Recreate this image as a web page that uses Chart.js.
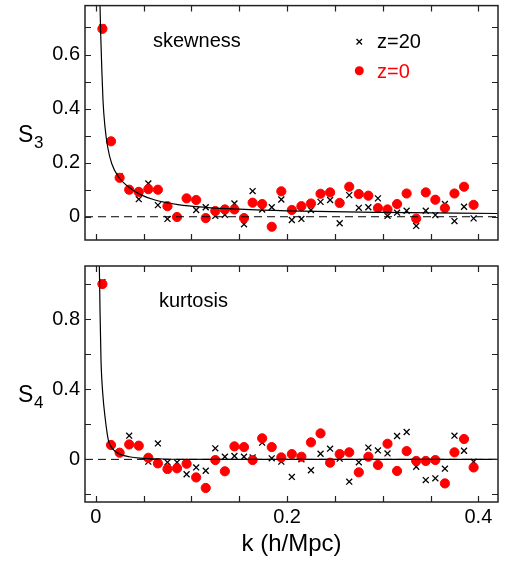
<!DOCTYPE html>
<html>
<head>
<meta charset="utf-8">
<script src="https://cdn.jsdelivr.net/npm/chart.js@4.4.0/dist/chart.umd.min.js"></script>
<style>
  html, body { margin: 0; padding: 0; background: #fff; }
  #wrap { position: relative; width: 505px; height: 563px; }
  .panel { position: absolute; left: 0; width: 505px; }
  #top-panel { top: 0; height: 250px; }
  #bottom-panel { top: 250px; height: 313px; }
</style>
</head>
<body>
<div id="wrap">
  <div class="panel" id="top-panel"><canvas id="s3-chart" width="505" height="250"></canvas></div>
  <div class="panel" id="bottom-panel"><canvas id="s4-chart" width="505" height="313"></canvas></div>
</div>
<script>
// k bins (h/Mpc), shared by both panels
const kValues = [0.007, 0.016, 0.025, 0.035, 0.045, 0.055, 0.065, 0.075, 0.085, 0.095,
                 0.105, 0.115, 0.125, 0.135, 0.145, 0.155, 0.164, 0.174, 0.184, 0.194,
                 0.205, 0.215, 0.225, 0.235, 0.245, 0.255, 0.265, 0.275, 0.285, 0.295,
                 0.305, 0.315, 0.325, 0.335, 0.345, 0.355, 0.365, 0.375, 0.385, 0.395];

// skewness S3
const s3z0 = [0.695, 0.279, 0.144, 0.100, 0.092, 0.102, 0.100, 0.039, -0.001, 0.068,
              0.062, -0.005, 0.021, 0.027, 0.027, -0.005, 0.052, 0.047, -0.037, 0.094,
              0.025, 0.039, 0.049, 0.085, 0.090, 0.051, 0.111, 0.084, 0.078, 0.032,
              0.027, 0.047, 0.086, -0.007, 0.090, 0.063, 0.032, 0.086, 0.111, 0.044];
const s3z20 = [0.700, 0.280, 0.150, 0.097, 0.065, 0.123, 0.043, -0.008, 0.000, 0.066,
               0.025, 0.035, 0.003, 0.007, 0.049, -0.028, 0.095, 0.027, 0.035, 0.064,
               -0.012, -0.008, 0.025, 0.055, 0.062, -0.024, 0.080, 0.033, 0.035, 0.068,
               0.003, 0.015, 0.022, -0.034, 0.022, 0.006, 0.047, -0.016, 0.037, -0.006];

// kurtosis S4
const s4z0 = [0.999, 0.082, 0.038, 0.085, 0.078, 0.009, -0.023, -0.055, -0.051, -0.025,
              -0.103, -0.163, -0.004, -0.068, 0.074, 0.070, -0.004, 0.120, 0.070, 0.011,
              0.030, 0.015, 0.097, 0.148, -0.019, 0.030, 0.040, -0.074, 0.015, -0.032,
              0.089, -0.066, 0.047, -0.009, -0.009, -0.004, -0.137, 0.040, 0.116, -0.046];
const s4z20 = [1.010, 0.080, 0.040, 0.135, 0.078, -0.013, 0.091, -0.017, -0.017, -0.085,
               -0.046, -0.065, 0.063, 0.015, 0.019, 0.015, 0.011, 0.095, 0.006, -0.013,
               -0.100, 0.000, -0.062, 0.032, 0.061, 0.004, -0.127, -0.017, 0.067, 0.051,
               0.034, 0.133, 0.156, -0.042, -0.118, -0.108, -0.053, 0.135, 0.049, -0.013];

// theory curves
const s3CurveK = [0.0045, 0.0052, 0.0063, 0.0076, 0.0097, 0.0125, 0.0167, 0.0236, 0.034,
                  0.048, 0.062, 0.086, 0.114, 0.15, 0.2, 0.3, 0.42];
const s3CurveVal = [0.781, 0.677, 0.553, 0.431, 0.332, 0.258, 0.197, 0.148, 0.111,
                    0.080, 0.062, 0.045, 0.035, 0.028, 0.022, 0.016, 0.012];
const s4CurveK = [0.0038, 0.0045, 0.0055, 0.0073, 0.0100, 0.0132, 0.018, 0.025, 0.035,
                  0.046, 0.07, 0.12, 0.42];
const s4CurveVal = [1.10, 0.85, 0.57, 0.38, 0.23, 0.11, 0.058, 0.030, 0.015,
                    0.007, 0.002, 0.0, 0.0];

// axes
const kMin = -0.0112, kMax = 0.4205;
const kTicks = [0, 0.05, 0.1, 0.15, 0.2, 0.25, 0.3, 0.35, 0.4];
const kTickLabels = ['0', '', '', '', '0.2', '', '', '', '0.4'];
const s3Min = -0.086, s3Max = 0.781;
const s3Ticks = [0, 0.1, 0.2, 0.3, 0.4, 0.5, 0.6, 0.7];
const s3TickLabels = ['0', '', '0.2', '', '0.4', '', '0.6', ''];
const s4Min = -0.243, s4Max = 1.102;
const s4Ticks = [-0.2, 0, 0.2, 0.4, 0.6, 0.8, 1.0];
const s4TickLabels = ['', '0', '', '0.4', '', '0.8', ''];

const FONT = "'Liberation Sans', Arial, Helvetica, sans-serif";

// inward tick marks on all four sides plus the frame
const frameTicks = {
    id: 'frameTicks',
    afterDatasetsDraw(chart) {
        const { ctx, chartArea: a, scales: { x, y } } = chart;
        ctx.save();
        ctx.strokeStyle = '#222';
        ctx.lineWidth = 1.2;
        ctx.beginPath();
        x.ticks.forEach(t => {
            const px = Math.round(x.getPixelForValue(t.value)) + 0.5;
            ctx.moveTo(px, a.bottom); ctx.lineTo(px, a.bottom - 6);
            ctx.moveTo(px, a.top); ctx.lineTo(px, a.top + 6);
        });
        y.ticks.forEach(t => {
            const py = Math.round(y.getPixelForValue(t.value)) + 0.5;
            ctx.moveTo(a.left, py); ctx.lineTo(a.left + 6, py);
            ctx.moveTo(a.right, py); ctx.lineTo(a.right - 6, py);
        });
        ctx.stroke();
        ctx.lineWidth = 1.5;
        ctx.strokeRect(a.left, a.top, a.right - a.left, a.bottom - a.top);
        ctx.restore();
    }
};

// panel name, S_n axis label and (top panel only) legend
const panelText = {
    id: 'panelText',
    afterDraw(chart, args, opts) {
        const ctx = chart.ctx;
        ctx.save();
        ctx.fillStyle = '#000';
        ctx.textBaseline = 'alphabetic';
        ctx.textAlign = 'left';
        ctx.font = '20px ' + FONT;
        ctx.fillText(opts.name, opts.nameX, opts.nameY);
        ctx.font = '23px ' + FONT;
        ctx.fillText('S', 18, opts.symY);
        ctx.font = '17px ' + FONT;
        ctx.fillText(opts.sub, 34, opts.symY + 6);
        if (opts.legend) {
            // z=20 cross
            ctx.strokeStyle = '#000';
            ctx.lineWidth = 1.3;
            ctx.beginPath();
            ctx.moveTo(356.5, 39); ctx.lineTo(362, 44.5);
            ctx.moveTo(362, 39); ctx.lineTo(356.5, 44.5);
            ctx.stroke();
            ctx.font = '20px ' + FONT;
            ctx.fillText('z=20', 377, 48);
            // z=0 dot
            ctx.fillStyle = '#ff0000';
            ctx.beginPath();
            ctx.arc(359.3, 70.7, 4.5, 0, Math.PI * 2);
            ctx.fill();
            ctx.fillText('z=0', 377, 77.5);
        }
        ctx.restore();
    }
};

function panelDatasets(z0, z20, curveK, curveVal) {
    return [
        {
            label: 'theory',
            data: curveK.map((k, i) => ({ x: k, y: curveVal[i] })),
            showLine: true,
            borderColor: '#000',
            borderWidth: 1.2,
            pointRadius: 0,
            tension: 0.4,
            cubicInterpolationMode: 'monotone'
        },
        {
            label: 'zero',
            data: [{ x: kMin, y: 0 }, { x: kMax, y: 0 }],
            showLine: true,
            borderColor: '#000',
            borderWidth: 1,
            borderDash: [8, 5],
            pointRadius: 0
        },
        {
            label: 'z=0',
            data: kValues.map((k, i) => ({ x: k, y: z0[i] })),
            pointStyle: 'circle',
            pointRadius: 4.6,
            backgroundColor: '#ff0000',
            borderColor: '#ff0000',
            borderWidth: 1
        },
        {
            label: 'z=20',
            data: kValues.map((k, i) => ({ x: k, y: z20[i] })),
            pointStyle: 'crossRot',
            pointRadius: 4.2,
            borderColor: '#000',
            borderWidth: 1.3
        }
    ];
}

function makePanel(canvasId, cfg) {
    return new Chart(document.getElementById(canvasId), {
        type: 'scatter',
        data: { datasets: panelDatasets(cfg.z0, cfg.z20, cfg.curveK, cfg.curveVal) },
        options: {
            responsive: false,
            animation: false,
            events: [],
            layout: { padding: { left: 0, right: 7, top: cfg.padTop, bottom: 0 } },
            plugins: {
                legend: { display: false },
                tooltip: { enabled: false },
                panelText: cfg.text
            },
            scales: {
                x: {
                    type: 'linear',
                    min: kMin,
                    max: kMax,
                    grid: { display: false, drawTicks: false },
                    border: { display: false },
                    afterBuildTicks: s => { s.ticks = kTicks.map(v => ({ value: v })); },
                    afterFit: s => {
                        s.height = cfg.xHeight;
                        s.paddingLeft = 0; s.paddingRight = 0;
                    },
                    ticks: {
                        display: cfg.xLabels,
                        autoSkip: false,
                        maxRotation: 0,
                        padding: 3,
                        color: '#000',
                        font: { family: FONT, size: 20 },
                        callback: (v, i) => kTickLabels[i]
                    },
                    title: {
                        display: cfg.xLabels,
                        text: 'k (h/Mpc)',
                        color: '#000',
                        font: { family: FONT, size: 24 },
                        padding: { top: 0, bottom: 4 }
                    }
                },
                y: {
                    type: 'linear',
                    min: cfg.yMin,
                    max: cfg.yMax,
                    grid: { display: false, drawTicks: false },
                    border: { display: false },
                    afterBuildTicks: s => { s.ticks = cfg.yTicks.map(v => ({ value: v })); },
                    afterFit: s => {
                        s.width = 85;
                        s.paddingTop = 0; s.paddingBottom = 0;
                    },
                    ticks: {
                        autoSkip: false,
                        padding: 5,
                        color: '#000',
                        font: { family: FONT, size: 20 },
                        callback: (v, i) => cfg.yTickLabels[i]
                    }
                }
            }
        },
        plugins: [frameTicks, panelText]
    });
}

makePanel('s3-chart', {
    z0: s3z0, z20: s3z20, curveK: s3CurveK, curveVal: s3CurveVal,
    yMin: s3Min, yMax: s3Max, yTicks: s3Ticks, yTickLabels: s3TickLabels,
    padTop: 5, xHeight: 10, xLabels: false,
    text: { name: 'skewness', nameX: 153, nameY: 47, sub: '3', symY: 142, legend: true }
});

makePanel('s4-chart', {
    z0: s4z0, z20: s4z20, curveK: s4CurveK, curveVal: s4CurveVal,
    yMin: s4Min, yMax: s4Max, yTicks: s4Ticks, yTickLabels: s4TickLabels,
    padTop: 16, xHeight: 61, xLabels: true,
    text: { name: 'kurtosis', nameX: 159, nameY: 57, sub: '4', symY: 152, legend: false }
});
</script>
</body>
</html>
